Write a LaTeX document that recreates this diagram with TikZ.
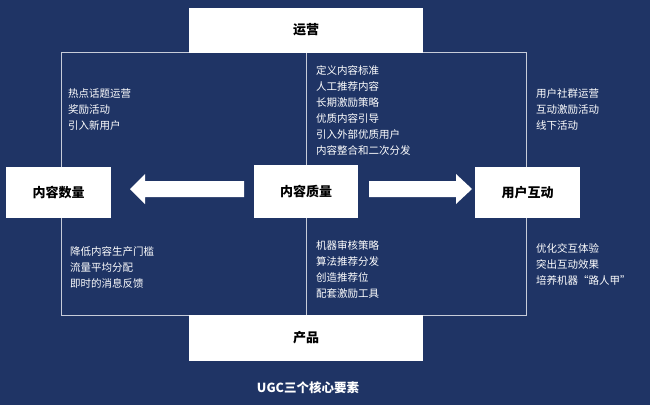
\documentclass[tikz,border=0pt]{standalone}
\usepackage{fontspec}
\setmainfont{Noto Sans CJK SC}
\usepackage{tikz}
\usetikzlibrary{positioning}
\definecolor{navy}{HTML}{1F3465}
\tikzset{
  keybox/.style={fill=white, draw=none, inner sep=0pt, font=\fontsize{13}{15}\selectfont\bfseries, text=black},
  itemlist/.style={text=white, align=left, anchor=north west, inner sep=0pt, font=\fontsize{10.5}{16}\selectfont},
  frameline/.style={draw=white!75!navy, line width=0.8pt},
  fatarrow/.style={fill=white, draw=none}
}
\begin{document}
\begin{tikzpicture}[x=1pt, y=-1pt]
        \fill[navy] (0,0) rectangle (650,405);
        \useasboundingbox (0,0) rectangle (650,405);
        % frame and centre line
        \coordinate (fnw) at (61,52);
        \coordinate (fse) at (526,315);
        \draw[frameline] (fnw) rectangle (fse);
        \coordinate (ctop) at (306,52);
        \coordinate (cbot) at (306,315);
        \draw[frameline] (ctop) -- (cbot);
        % boxes
        \node (ops) [keybox, minimum width=234pt, minimum height=45pt] at (306,30) {运营};
        \node (prod) [keybox, minimum width=234pt, minimum height=46pt] at (306,338) {产品};
        \node (qty) [keybox, minimum width=105pt, minimum height=51pt] at (58.5,192.5) {内容数量};
        \node (qual) [keybox, minimum width=104pt, minimum height=53pt] at (306,191.5) {内容质量};
        \node (inter) [keybox, minimum width=105pt, minimum height=51pt] at (527.5,192.5) {用户互动};
        % arrows
        \fill[fatarrow] (244,181) -- (145,181) -- (145,174) -- (130,189) -- (145,204) -- (145,197) -- (244,197) -- cycle;
        \fill[fatarrow] (369,181) -- (456,181) -- (456,174) -- (472,189) -- (456,204) -- (456,197) -- (369,197) -- cycle;
        % item lists
        \node (opsqty) [itemlist] at (68,88) {热点话题运营\\奖励活动\\引入新用户};
        \node (opsqual) [itemlist] at (316,65) {定义内容标准\\人工推荐内容\\长期激励策略\\优质内容引导\\引入外部优质用户\\内容整合和二次分发};
        \node (opsinter) [itemlist] at (536,88) {用户社群运营\\互动激励活动\\线下活动};
        \node (prodqty) [itemlist] at (70,246) {降低内容生产门槛\\流量平均分配\\即时的消息反馈};
        \node (prodqual) [itemlist] at (316,240) {机器审核策略\\算法推荐分发\\创造推荐位\\配套激励工具};
        \node (prodinter) [itemlist] at (536,243) {优化交互体验\\突出互动效果\\培养机器“路人甲”};
        % caption
        \node (caption) [text=white, font=\fontsize{12.5}{14}\selectfont\bfseries] at (308,388) {UGC三个核心要素};
\end{tikzpicture}
\end{document}
